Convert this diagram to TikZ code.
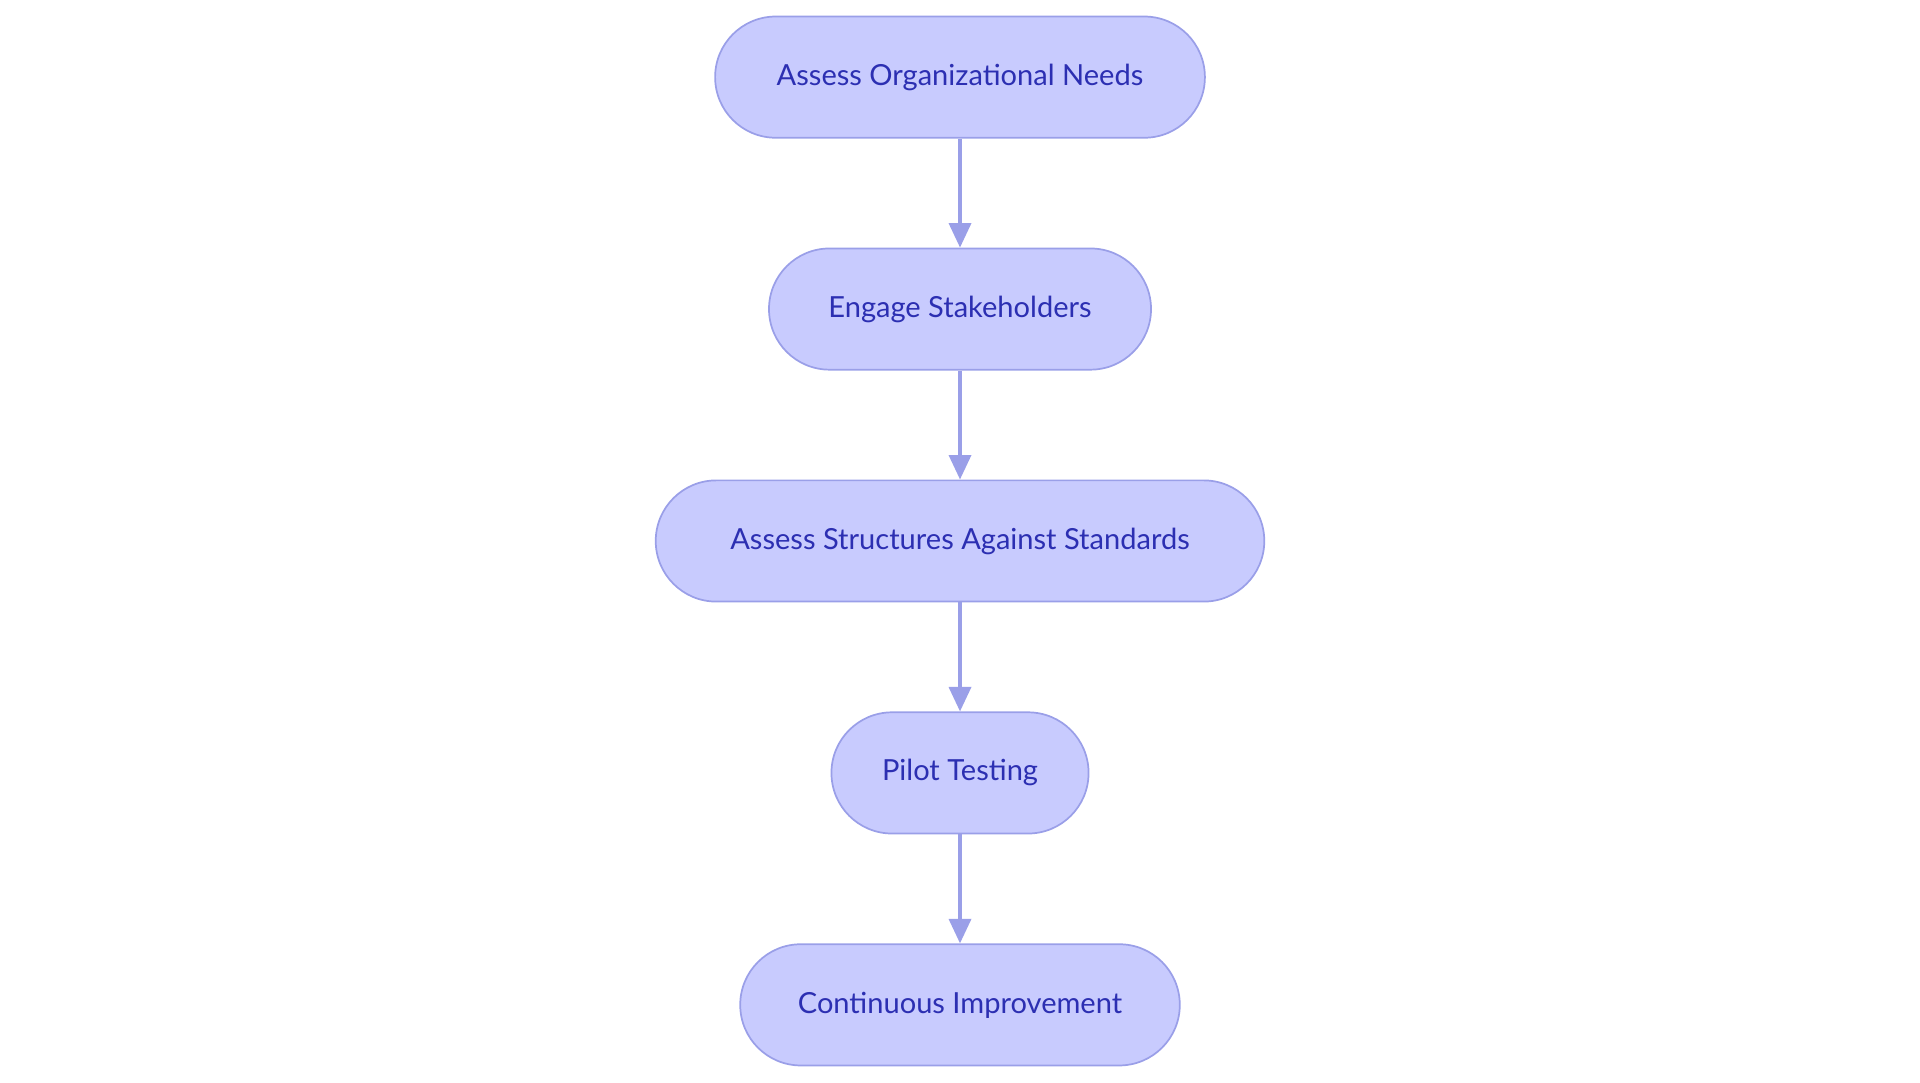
\documentclass[tikz,border=0pt]{standalone}
\usepackage{fontspec}
\setmainfont{Lato}
\usetikzlibrary{positioning,arrows.meta}
\definecolor{boxFill}{HTML}{C8CBFE}
\definecolor{boxLine}{HTML}{9A9FE8}
\definecolor{boxText}{HTML}{2C2FB2}
\tikzset{stepbox/.style={draw=boxLine,fill=boxFill,text=boxText,rounded corners=0.99cm,
    minimum height=1.98cm,font=\fontsize{13.5}{16}\selectfont,line width=0.8pt},
  flow/.style={boxLine,line width=1.6pt,-{Triangle[length=0.4cm,width=0.36cm]}}}
\begin{document}
\begin{tikzpicture}[node distance=1.78cm]
  \useasboundingbox (0,0) rectangle (31.36,-17.68);
  \node[stepbox,minimum width=8cm] (needs) at (15.68,-1.26) {Assess Organizational Needs};
  \node[stepbox,minimum width=6.24cm,below=of needs] (engage) {Engage Stakeholders};
  \node[stepbox,minimum width=9.94cm,below=of engage] (assess) {Assess Structures Against Standards};
  \node[stepbox,minimum width=4.2cm,below=of assess] (pilot) {Pilot Testing};
  \node[stepbox,minimum width=7.18cm,below=of pilot] (improve) {Continuous Improvement};
  % arrows between steps
  \draw[flow] (needs) -- (engage);
  \draw[flow] (engage) -- (assess);
  \draw[flow] (assess) -- (pilot);
  \draw[flow] (pilot) -- (improve);
\end{tikzpicture}
\end{document}
